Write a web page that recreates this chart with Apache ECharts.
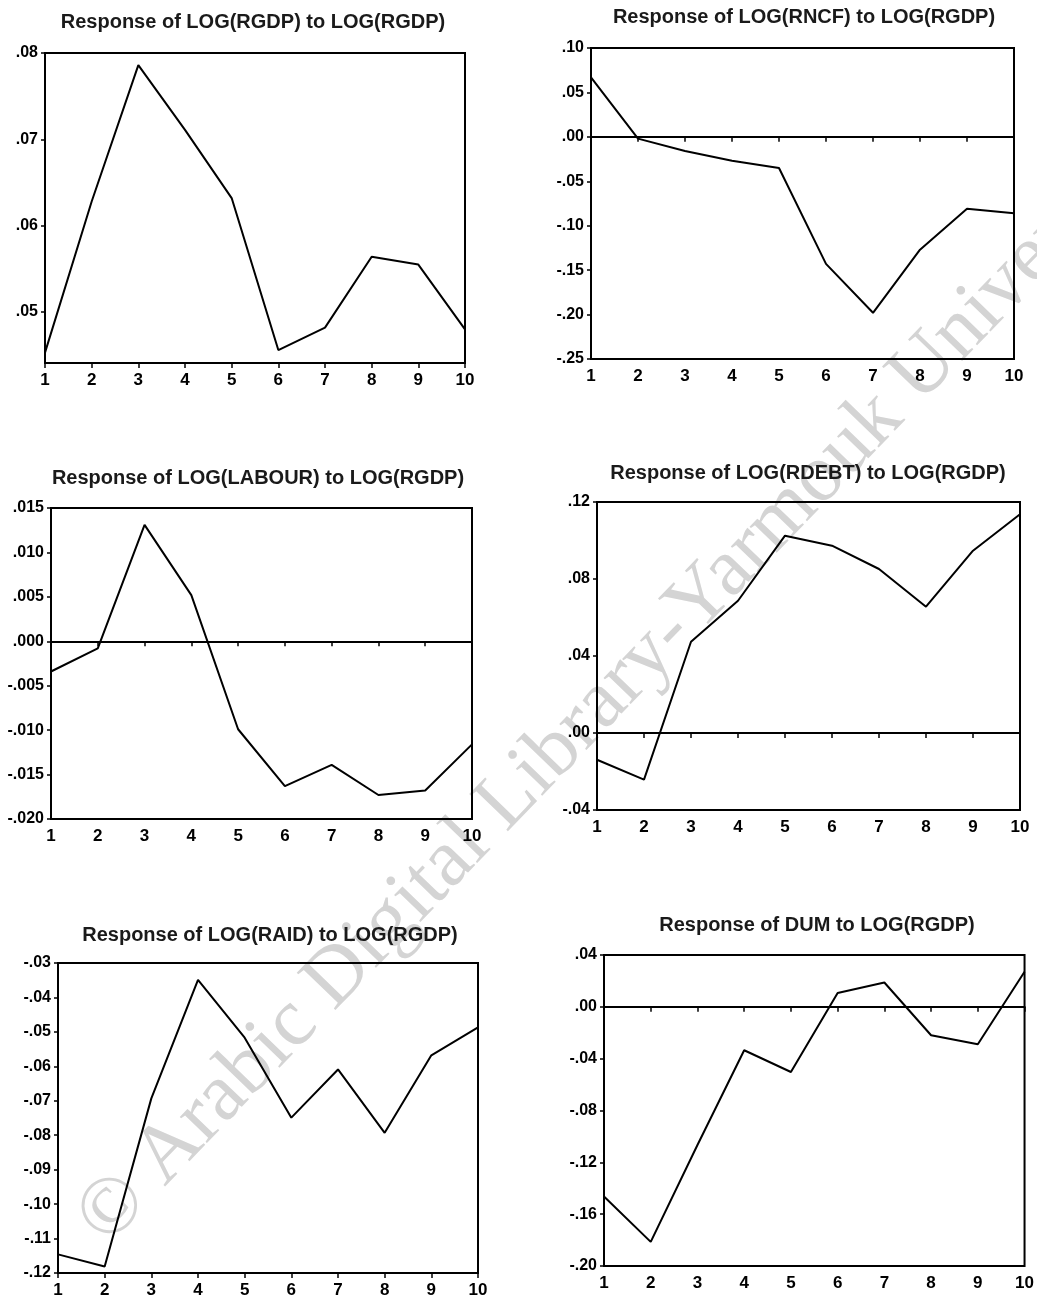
<!DOCTYPE html>
<html><head><meta charset="utf-8">
<script src="https://cdn.jsdelivr.net/npm/echarts@6/dist/echarts.min.js"></script>
<style>html,body{margin:0;padding:0;background:#fff}#c{width:1037px;height:1302px}</style>
</head><body><div id="c"></div>
<script>
const periods = ['1','2','3','4','5','6','7','8','9','10'];
const titles = [
  'Response of LOG(RGDP) to LOG(RGDP)',
  'Response of LOG(RNCF) to LOG(RGDP)',
  'Response of LOG(LABOUR) to LOG(RGDP)',
  'Response of LOG(RDEBT) to LOG(RGDP)',
  'Response of LOG(RAID) to LOG(RGDP)',
  'Response of DUM to LOG(RGDP)'
];
const rgdp   = [0.0453, 0.0628, 0.0786, 0.0711, 0.0632, 0.0456, 0.0482, 0.0564, 0.0555, 0.0480];
const rncf   = [0.067, -0.002, -0.016, -0.027, -0.035, -0.143, -0.198, -0.127, -0.081, -0.086];
const labour = [-0.0034, -0.0008, 0.0131, 0.0052, -0.0099, -0.0163, -0.0139, -0.0173, -0.0168, -0.0116];
const rdebt  = [-0.0139, -0.0242, 0.0474, 0.0687, 0.1025, 0.0973, 0.0852, 0.0656, 0.0947, 0.1136];
const raid   = [-0.1146, -0.1181, -0.0693, -0.0349, -0.0517, -0.0749, -0.0609, -0.0793, -0.0568, -0.0487];
const dum    = [-0.1463, -0.1814, -0.1066, -0.0335, -0.0503, 0.0106, 0.0188, -0.0219, -0.0289, 0.0271];

const ticksRgdp   = [0.05, 0.06, 0.07, 0.08];
const ticksRncf   = [-0.25, -0.20, -0.15, -0.10, -0.05, 0.00, 0.05, 0.10];
const ticksLabour = [-0.020, -0.015, -0.010, -0.005, 0.000, 0.005, 0.010, 0.015];
const ticksRdebt  = [-0.04, 0.00, 0.04, 0.08, 0.12];
const ticksRaid   = [-0.12, -0.11, -0.10, -0.09, -0.08, -0.07, -0.06, -0.05, -0.04, -0.03];
const ticksDum    = [-0.20, -0.16, -0.12, -0.08, -0.04, 0.00, 0.04];

const panels = [
  {data: rgdp,   ticks: ticksRgdp,   min: 0.0441, max: 0.08, dec: 2, zero: false,
   box: {left: 45, top: 53, right: 465, bottom: 363}, title: [248, 7]},
  {data: rncf,   ticks: ticksRncf,   min: -0.25, max: 0.10, dec: 2, zero: true,
   box: {left: 591, top: 48, right: 1014, bottom: 359}, title: [799, 2]},
  {data: labour, ticks: ticksLabour, min: -0.020, max: 0.015, dec: 3, zero: true,
   box: {left: 51, top: 508, right: 472, bottom: 819}, title: [253, 463]},
  {data: rdebt,  ticks: ticksRdebt,  min: -0.04, max: 0.12, dec: 2, zero: true,
   box: {left: 597, top: 502, right: 1020, bottom: 810}, title: [803, 458]},
  {data: raid,   ticks: ticksRaid,   min: -0.12, max: -0.03, dec: 2, zero: false,
   box: {left: 58, top: 963, right: 478, bottom: 1273}, title: [265, 920]},
  {data: dum,    ticks: ticksDum,    min: -0.20, max: 0.04, dec: 2, zero: true,
   box: {left: 604, top: 955, right: 1028, bottom: 1266}, title: [812, 910]}
];

const W = 1037, H = 1302;
const fmt = (d) => (v) => {
  let s = Number(v).toFixed(d);
  if (/^-?0\.0+$/.test(s)) s = s.replace('-', '');
  return s.replace(/^(-?)0\./, '$1.');
};
const FONT = 'Liberation Sans, Arial, sans-serif';

const option = {
  backgroundColor: '#fff',
  animation: false,
  title: panels.map((p, i) => ({
    text: titles[i], left: p.title[0], top: p.title[1], textAlign: 'center',
    textStyle: {fontFamily: FONT, fontSize: 20, fontWeight: 'bold', color: '#1a1a1a'}
  })),
  grid: panels.map(p => ({
    left: p.box.left, top: p.box.top, width: p.box.right - p.box.left, height: p.box.bottom - p.box.top,
    show: true, borderColor: '#000', borderWidth: 2, backgroundColor: 'transparent', containLabel: false
  })),
  xAxis: panels.map((p, i) => ({
    type: 'category', gridIndex: i, data: periods, boundaryGap: false,
    axisLine: {show: true, lineStyle: {color: '#000', width: 2}},
    axisTick: {show: true, inside: false, length: 5, interval: 0, lineStyle: {color: '#000', width: 1.5}},
    axisLabel: {interval: 0, color: '#000', fontFamily: FONT, fontSize: 17, fontWeight: 'bold', margin: 9},
    splitLine: {show: false}
  })),
  yAxis: panels.map((p, i) => ({
    type: 'value', gridIndex: i, min: p.min, max: p.max,
    axisLine: {show: true, lineStyle: {color: '#000', width: 2}},
    axisTick: {show: true, length: 4, customValues: p.ticks, lineStyle: {color: '#000', width: 1.5}},
    axisLabel: {customValues: p.ticks, formatter: fmt(p.dec), color: '#000',
      fontFamily: FONT, fontSize: 16, fontWeight: 'bold', margin: 7},
    splitLine: {show: false}
  })),
  graphic: [{
    type: 'text', z: -10,
    x: 62, y: 1203, rotation: 46 * Math.PI / 180,
    style: {text: '\u00A9 Arabic Digital Library-Yarmouk University', fill: '#d4d4d4',
      font: '82px "Liberation Serif", "DejaVu Serif", serif', textBaseline: 'alphabetic', textAlign: 'left'}
  }],
  series: panels.map((p, i) => ({
    type: 'line', xAxisIndex: i, yAxisIndex: i, data: p.data, symbol: 'none',
    lineStyle: {color: '#000', width: 2}, z: 5,
    markLine: p.zero ? {silent: true, symbol: 'none', label: {show: false},
      lineStyle: {color: '#000', width: 1.5, type: 'solid'}, data: [{yAxis: 0}]} : undefined
  }))
};
const chart = echarts.init(document.getElementById('c'), null, {renderer: 'canvas', width: W, height: H});
chart.setOption(option);
</script></body></html>
